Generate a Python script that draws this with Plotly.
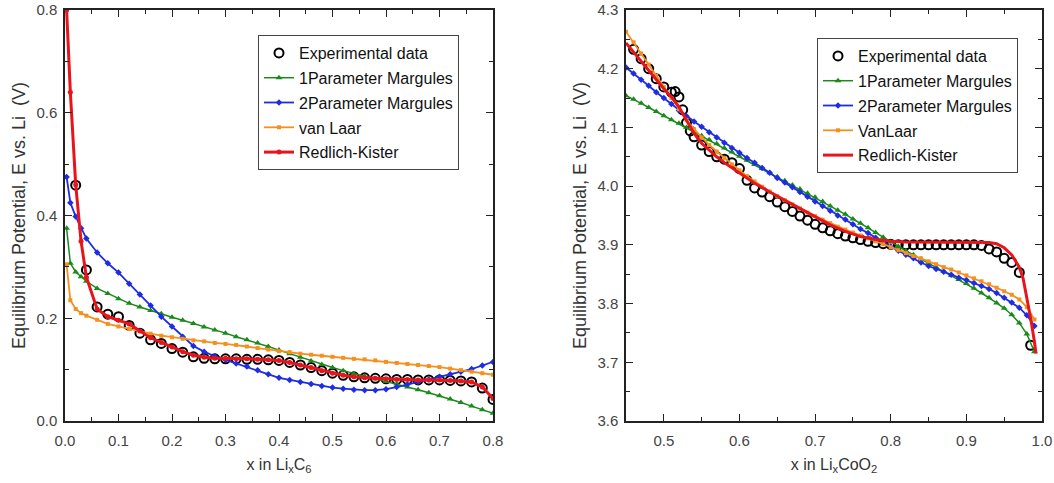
import plotly.graph_objects as go

# ---------------- Left panel: graphite (LixC6) ----------------
exp_c6_x = [0.02, 0.04, 0.06, 0.08, 0.10, 0.12, 0.14, 0.16, 0.18, 0.20, 0.22, 0.24, 0.26, 0.28,
            0.30, 0.32, 0.34, 0.36, 0.38, 0.40, 0.42, 0.44, 0.46, 0.48, 0.50, 0.52, 0.54, 0.56,
            0.58, 0.60, 0.62, 0.64, 0.66, 0.68, 0.70, 0.72, 0.74, 0.76, 0.78, 0.80]
exp_c6_y = [0.459, 0.294, 0.222, 0.208, 0.203, 0.186, 0.171, 0.158, 0.151, 0.141, 0.134, 0.125,
            0.122, 0.121, 0.121, 0.121, 0.120, 0.120, 0.119, 0.118, 0.114, 0.109, 0.104, 0.098,
            0.093, 0.089, 0.086, 0.084, 0.083, 0.082, 0.081, 0.081, 0.080, 0.080, 0.080, 0.079,
            0.078, 0.076, 0.064, 0.042]

mod_c6_x = [0.003, 0.01, 0.02, 0.03, 0.04, 0.06, 0.08, 0.10, 0.12, 0.14, 0.16, 0.18, 0.20, 0.22,
            0.24, 0.26, 0.28, 0.30, 0.32, 0.34, 0.36, 0.38, 0.40, 0.42, 0.44, 0.46, 0.48, 0.50,
            0.52, 0.54, 0.56, 0.58, 0.60, 0.62, 0.64, 0.66, 0.68, 0.70, 0.72, 0.74, 0.76, 0.78, 0.80]
margules1_c6 = [0.375, 0.307, 0.290, 0.281, 0.272, 0.258, 0.248, 0.238, 0.229, 0.222, 0.215, 0.209,
                0.202, 0.196, 0.190, 0.183, 0.177, 0.171, 0.164, 0.158, 0.152, 0.145, 0.138, 0.131,
                0.124, 0.117, 0.110, 0.104, 0.098, 0.092, 0.087, 0.082, 0.077, 0.072, 0.066, 0.061,
                0.055, 0.049, 0.043, 0.036, 0.029, 0.022, 0.015]
margules2_c6 = [0.475, 0.425, 0.398, 0.375, 0.355, 0.328, 0.307, 0.289, 0.267, 0.246, 0.225, 0.203,
                0.184, 0.164, 0.146, 0.135, 0.126, 0.119, 0.112, 0.106, 0.099, 0.091, 0.084, 0.080,
                0.076, 0.072, 0.068, 0.065, 0.063, 0.061, 0.060, 0.060, 0.062, 0.066, 0.071, 0.076,
                0.081, 0.086, 0.091, 0.096, 0.101, 0.108, 0.115]
vanlaar_c6 = [0.305, 0.235, 0.218, 0.210, 0.205, 0.197, 0.189, 0.184, 0.179, 0.175, 0.170, 0.166,
              0.163, 0.160, 0.157, 0.155, 0.152, 0.150, 0.148, 0.145, 0.142, 0.139, 0.136, 0.134,
              0.131, 0.129, 0.127, 0.125, 0.123, 0.121, 0.120, 0.118, 0.115, 0.113, 0.111, 0.109,
              0.107, 0.105, 0.102, 0.099, 0.096, 0.093, 0.090]
rk_c6 = [0.800, 0.640, 0.460, 0.350, 0.280, 0.218, 0.203, 0.196, 0.189, 0.175, 0.162, 0.153,
         0.144, 0.135, 0.128, 0.124, 0.122, 0.122, 0.121, 0.121, 0.120, 0.119, 0.118, 0.114,
         0.109, 0.104, 0.098, 0.093, 0.089, 0.086, 0.084, 0.083, 0.082, 0.081, 0.081, 0.080,
         0.080, 0.080, 0.079, 0.078, 0.076, 0.066, 0.044]

# ---------------- Right panel: LixCoO2 ----------------
exp_co_x = [0.46, 0.47, 0.48, 0.49, 0.50, 0.51, 0.515, 0.52, 0.525, 0.53, 0.535, 0.54, 0.55, 0.56,
            0.57, 0.58, 0.59, 0.60, 0.61, 0.62, 0.63, 0.64, 0.65, 0.66, 0.67, 0.68, 0.69, 0.70,
            0.71, 0.72, 0.73, 0.74, 0.75, 0.76, 0.77, 0.78, 0.79, 0.80, 0.81, 0.82, 0.83, 0.84,
            0.85, 0.86, 0.87, 0.88, 0.89, 0.90, 0.91, 0.92, 0.93, 0.94, 0.95, 0.96, 0.97, 0.985]
exp_co_y = [4.233, 4.217, 4.200, 4.183, 4.169, 4.160, 4.161, 4.152, 4.130, 4.108, 4.094, 4.084,
            4.070, 4.059, 4.050, 4.046, 4.040, 4.030, 4.010, 3.997, 3.990, 3.982, 3.973, 3.965,
            3.957, 3.949, 3.942, 3.935, 3.929, 3.924, 3.919, 3.915, 3.912, 3.909, 3.906, 3.904,
            3.902, 3.901, 3.900, 3.900, 3.900, 3.900, 3.900, 3.900, 3.900, 3.900, 3.900, 3.900,
            3.900, 3.899, 3.893, 3.888, 3.877, 3.870, 3.853, 3.729]

mod_co_x = [0.45, 0.46, 0.47, 0.48, 0.49, 0.50, 0.51, 0.52, 0.53, 0.54, 0.55, 0.56, 0.57, 0.58,
            0.59, 0.60, 0.61, 0.62, 0.63, 0.64, 0.65, 0.66, 0.67, 0.68, 0.69, 0.70, 0.71, 0.72,
            0.73, 0.74, 0.75, 0.76, 0.77, 0.78, 0.79, 0.80, 0.81, 0.82, 0.83, 0.84, 0.85, 0.86,
            0.87, 0.88, 0.89, 0.90, 0.91, 0.92, 0.93, 0.94, 0.95, 0.96, 0.97, 0.98, 0.99]
margules1_co = [4.154, 4.148, 4.141, 4.134, 4.127, 4.120, 4.113, 4.107, 4.100, 4.093, 4.086, 4.079,
                4.072, 4.065, 4.058, 4.051, 4.044, 4.037, 4.030, 4.023, 4.016, 4.009, 4.002, 3.995,
                3.988, 3.981, 3.974, 3.966, 3.959, 3.952, 3.944, 3.937, 3.929, 3.921, 3.913, 3.905,
                3.897, 3.890, 3.883, 3.876, 3.869, 3.862, 3.855, 3.848, 3.841, 3.834, 3.826, 3.818,
                3.810, 3.801, 3.792, 3.781, 3.767, 3.748, 3.718]
margules2_co = [4.202, 4.192, 4.181, 4.171, 4.160, 4.150, 4.140, 4.129, 4.119, 4.110, 4.101, 4.092,
                4.083, 4.074, 4.065, 4.057, 4.048, 4.040, 4.031, 4.023, 4.014, 4.006, 3.998, 3.990,
                3.982, 3.974, 3.966, 3.958, 3.950, 3.943, 3.935, 3.927, 3.920, 3.912, 3.905, 3.897,
                3.890, 3.883, 3.877, 3.870, 3.864, 3.859, 3.854, 3.849, 3.844, 3.840, 3.835, 3.830,
                3.825, 3.818, 3.810, 3.802, 3.793, 3.780, 3.762]
vanlaar_co = [4.263, 4.245, 4.226, 4.207, 4.188, 4.169, 4.150, 4.131, 4.113, 4.097, 4.083, 4.070,
              4.059, 4.048, 4.037, 4.027, 4.017, 4.008, 3.999, 3.991, 3.983, 3.976, 3.969, 3.962,
              3.955, 3.949, 3.943, 3.937, 3.931, 3.926, 3.921, 3.916, 3.911, 3.906, 3.901, 3.896,
              3.891, 3.886, 3.881, 3.877, 3.872, 3.867, 3.862, 3.858, 3.853, 3.848, 3.843, 3.838,
              3.833, 3.827, 3.821, 3.815, 3.807, 3.794, 3.773]
rk_co_x = [0.45, 0.46, 0.47, 0.48, 0.49, 0.50, 0.51, 0.52, 0.53, 0.54, 0.55, 0.56, 0.57, 0.58,
           0.59, 0.60, 0.62, 0.64, 0.66, 0.68, 0.70, 0.72, 0.74, 0.76, 0.78, 0.80, 0.82, 0.84,
           0.86, 0.88, 0.90, 0.92, 0.93, 0.94, 0.95, 0.96, 0.97, 0.975, 0.98, 0.985, 0.99, 0.992]
rk_co = [4.244, 4.228, 4.212, 4.198, 4.182, 4.166, 4.152, 4.135, 4.112, 4.090, 4.073, 4.061,
         4.050, 4.040, 4.031, 4.022, 4.005, 3.990, 3.976, 3.962, 3.948, 3.934, 3.923, 3.914,
         3.909, 3.906, 3.905, 3.905, 3.905, 3.905, 3.905, 3.905, 3.904, 3.902, 3.895, 3.883,
         3.862, 3.843, 3.812, 3.775, 3.735, 3.715]

labels_left = ["Experimental data", "1Parameter Margules", "2Parameter Margules", "van Laar", "Redlich-Kister"]
labels_right = ["Experimental data", "1Parameter Margules", "2Parameter Margules", "VanLaar", "Redlich-Kister"]

GREEN = "#1a8a1a"
BLUE = "#1f2de0"
ORANGE = "#f5901e"
RED = "#e8141c"
FONT = "Liberation Sans, Arial, sans-serif"

fig = go.Figure()


def add_panel(xa, ya, leg, ex, ey, mx, m1, m2, vl, rkx, rk, labels, rk_markers):
    fig.add_trace(go.Scatter(x=ex, y=ey, mode="markers", name=labels[0], xaxis=xa, yaxis=ya,
                             legend=leg, legendgroup=leg + "a",
                             marker=dict(symbol="circle-open", size=9, color="black",
                                         line=dict(width=2, color="black"))))
    fig.add_trace(go.Scatter(x=mx, y=m1, mode="lines+markers", name=labels[1], xaxis=xa, yaxis=ya,
                             legend=leg, legendgroup=leg + "b",
                             line=dict(color=GREEN, width=1.5),
                             marker=dict(symbol="triangle-up", size=6, color=GREEN)))
    fig.add_trace(go.Scatter(x=mx, y=m2, mode="lines+markers", name=labels[2], xaxis=xa, yaxis=ya,
                             legend=leg, legendgroup=leg + "c",
                             line=dict(color=BLUE, width=1.8),
                             marker=dict(symbol="diamond", size=5, color=BLUE)))
    fig.add_trace(go.Scatter(x=mx, y=vl, mode="lines+markers", name=labels[3], xaxis=xa, yaxis=ya,
                             legend=leg, legendgroup=leg + "d",
                             line=dict(color=ORANGE, width=1.8),
                             marker=dict(symbol="square", size=4, color=ORANGE)))
    fig.add_trace(go.Scatter(x=rkx, y=rk, mode="lines+markers" if rk_markers else "lines",
                             name=labels[4], xaxis=xa, yaxis=ya,
                             legend=leg, legendgroup=leg + "e",
                             line=dict(color=RED, width=3),
                             marker=dict(symbol="circle", size=5, color=RED)))


add_panel("x", "y", "legend", exp_c6_x, exp_c6_y, mod_c6_x, margules1_c6, margules2_c6,
          vanlaar_c6, mod_c6_x, rk_c6, labels_left, True)
add_panel("x2", "y2", "legend2", exp_co_x, exp_co_y, mod_co_x, margules1_co, margules2_co,
          vanlaar_co, rk_co_x, rk_co, labels_right, False)

W, H = 1054, 483


def px_x(v):
    return v / W


def px_y(v):
    return (H - v) / H


ydom = [px_y(421), px_y(10)]


def axis_style(rng, dtick, minor_dtick, domain, anchor, title, tsize, standoff, lblgap):
    return dict(range=rng, domain=domain, anchor=anchor, automargin=False,
                dtick=dtick, tick0=0, tickformat=".1f", ticklabelstandoff=lblgap,
                ticklabeloverflow="allow",
                showgrid=False, zeroline=False, showline=True, linecolor="#222", linewidth=1.5,
                mirror="allticks", ticks="inside", ticklen=7, tickwidth=1.3, tickcolor="#222",
                minor=dict(ticks="inside", ticklen=4, dtick=minor_dtick, tickcolor="#222",
                           tickwidth=1.2, showgrid=False),
                tickfont=dict(family=FONT, size=15, color="#444"),
                title=dict(text=title, font=dict(family=FONT, size=tsize, color="#333"),
                           standoff=standoff))


ytitle = "Equilibrium Potential, E vs. Li  (V)"
legend_common = dict(xanchor="left", yanchor="top", bordercolor="#444", borderwidth=1,
                     bgcolor="white", font=dict(family=FONT, size=16, color="#111"),
                     traceorder="grouped", tracegroupgap=1, itemwidth=30)
fig.update_layout(
    width=W, height=H,
    margin=dict(l=0, r=0, t=0, b=0),
    paper_bgcolor="white", plot_bgcolor="white",
    font=dict(family=FONT, color="#222"),
    xaxis=axis_style([0, 0.8], 0.1, 0.05, [px_x(65), px_x(493)], "y",
                     "x in Li<sub>x</sub>C<sub>6</sub>", 16, 11, 5),
    yaxis=axis_style([0, 0.8], 0.2, 0.1, ydom, "x", ytitle, 18, 6, 3),
    xaxis2=axis_style([0.45, 1.0], 0.1, 0.05, [px_x(626), px_x(1042)], "y2",
                      "x in Li<sub>x</sub>CoO<sub>2</sub>", 16, 11, 5),
    yaxis2=axis_style([3.6, 4.3], 0.1, 0.05, ydom, "x2", ytitle, 18, 6, 3),
    legend=dict(x=px_x(258), y=px_y(35), **legend_common),
    legend2=dict(x=px_x(817), y=px_y(38), **legend_common),
)

# the page body has a default 8 px margin; remove it so the figure fills the window exactly
fig.write_html("out.html", config={"displayModeBar": False},
               post_script="document.body.style.margin='0px';")
